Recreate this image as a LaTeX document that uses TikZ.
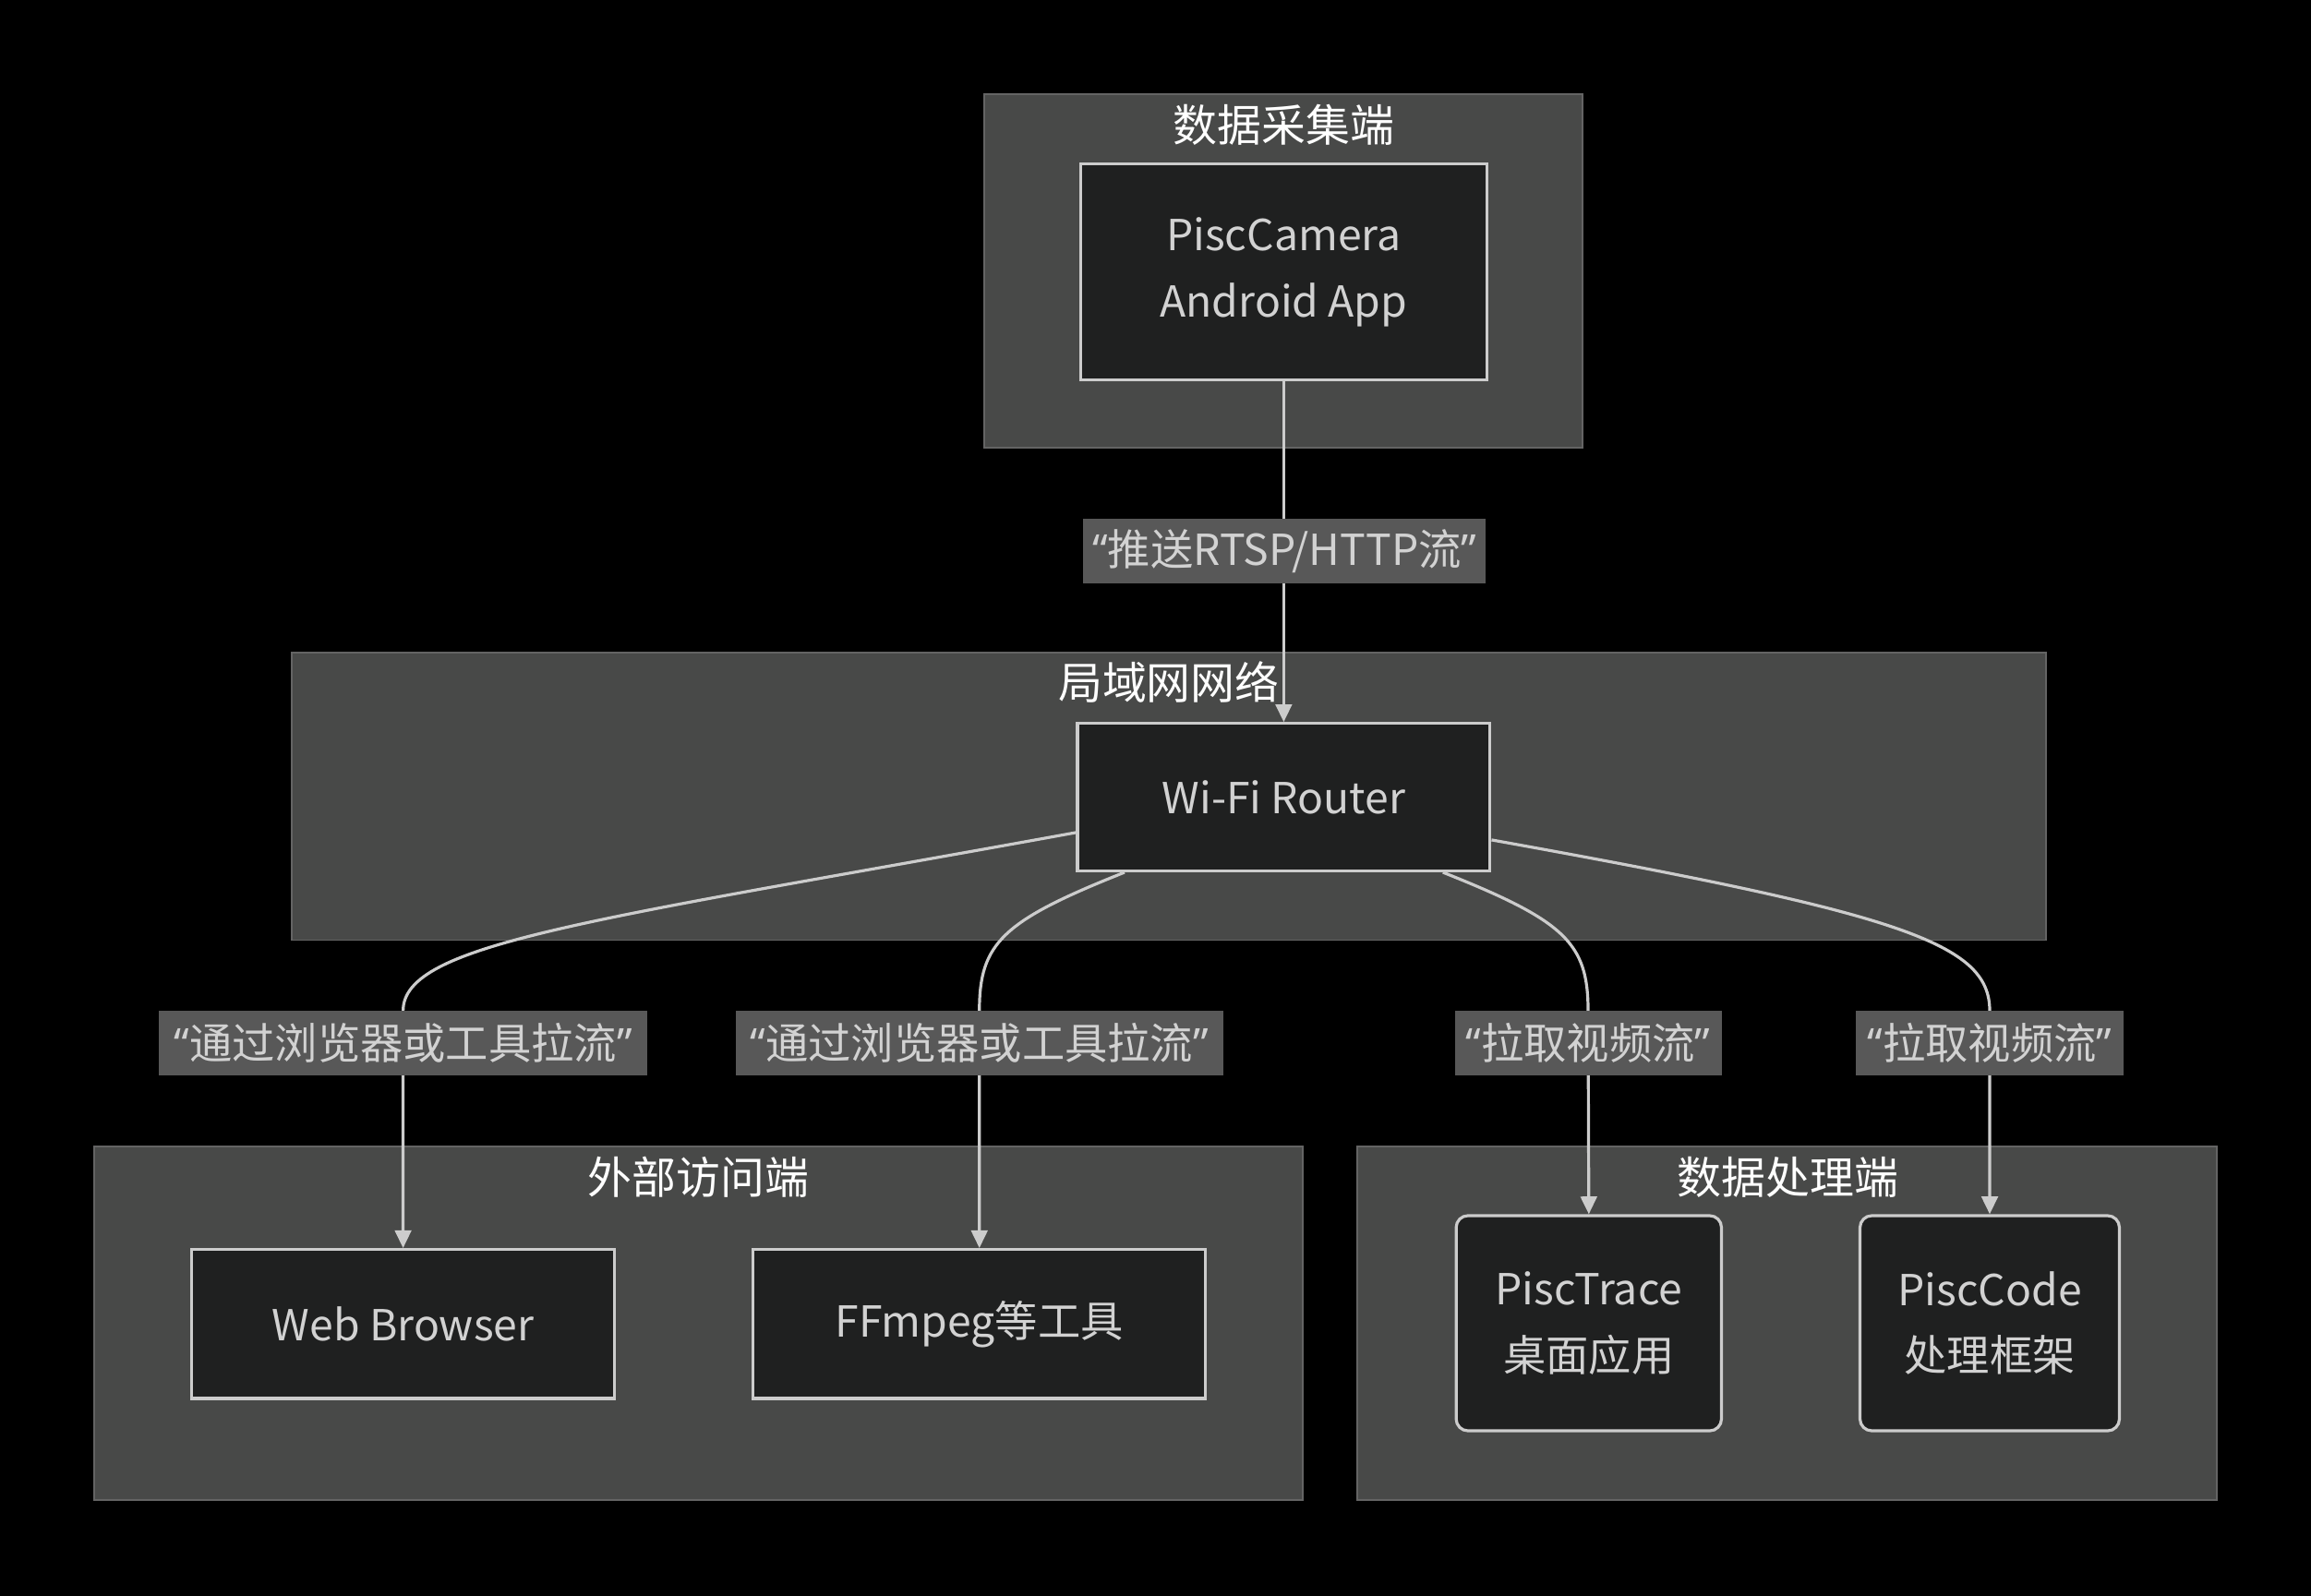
\documentclass[tikz,border=0pt]{standalone}
\usepackage{fontspec}
\setmainfont{Noto Sans CJK SC}
\newfontfamily\qfont{Noto Sans}
\newcommand\oquote{{\qfont “}}
\newcommand\cquote{{\qfont ”}}
\usetikzlibrary{arrows.meta,calc}
\definecolor{clfill}{RGB}{72,73,72}
\definecolor{clstroke}{RGB}{100,100,100}
\definecolor{ndfill}{RGB}{31,32,32}
\definecolor{ndstroke}{RGB}{204,204,204}
\definecolor{lbfill}{RGB}{88,88,88}
\definecolor{txt}{RGB}{210,210,210}
\tikzset{
  cluster/.style={draw=clstroke, fill=clfill, line width=0.6pt, inner sep=0pt},
  cltitle/.style={text=white, font=\fontsize{15pt}{18pt}\selectfont, inner sep=0pt},
  box/.style={draw=ndstroke, fill=ndfill, line width=1pt, inner sep=0pt, text=txt,
    font=\fontsize{14.5pt}{22.5pt}\selectfont, align=center},
  rbox/.style={box, rounded corners=4pt},
  elabel/.style={fill=lbfill, inner sep=0pt, text=txt, minimum height=22pt,
    font=\fontsize{14.5pt}{18pt}\selectfont},
  link/.style={draw=ndstroke, line width=1pt, -{Triangle[length=6pt,width=5.5pt]}},
}
\begin{document}
\begin{tikzpicture}[x=0.5pt,y=-0.5pt]
\fill[black] (0,0) rectangle (1568,1083);
\useasboundingbox (0,0) rectangle (1568,1083);
% clusters
\node[cluster, minimum width=203pt, minimum height=120pt] (c1) at (871,184) {};
\node[cluster, minimum width=595pt, minimum height=97.5pt] (c2) at (793,540.5) {};
\node[cluster, minimum width=410pt, minimum height=120pt] (c3) at (474,898) {};
\node[cluster, minimum width=291.5pt, minimum height=120pt] (c4) at (1212.5,898) {};
% titles
\node[cltitle] (t1) at (871,85) {数据采集端};
\node[cltitle] (t2) at (793,463) {局域网网络};
\node[cltitle] (t3) at (474,799) {外部访问端};
\node[cltitle] (t4) at (1213,799) {数据处理端};
% nodes
\node[box, minimum width=138pt, minimum height=73.5pt] (cam) at (871,184.5) {PiscCamera\\Android App};
\node[box, minimum width=140pt, minimum height=50pt] (router) at (871,541) {Wi-Fi Router};
\node[box, minimum width=143.5pt, minimum height=50.5pt] (web) at (273.5,898.5) {Web Browser};
\node[box, minimum width=153.5pt, minimum height=50.5pt] (ff) at (664.5,898.5) {FFmpeg等工具};
\node[rbox, minimum width=90pt, minimum height=73pt] (trace) at (1078,898) {PiscTrace\\桌面应用};
\node[rbox, minimum width=88pt, minimum height=73pt] (code) at (1350,898) {PiscCode\\处理框架};
% label anchors
\coordinate (a1) at (871,374);
\coordinate (a2) at (273.5,686);
\coordinate (a3) at (664.5,686);
\coordinate (a4) at (1077.5,686);
\coordinate (a5) at (1350,686);
% edges
\draw[link] (cam.south) -- (router.north);
\draw[link] ($(router.west)+(0,-12pt)$) .. controls (400,625) and (273.5,640) .. (a2) -- (web.north);
\draw[link] ($(router.south)+(-54pt,0)$) .. controls (680,625) and (664.5,640) .. (a3) -- (ff.north);
\draw[link] ($(router.south)+(54pt,0)$) .. controls (1062,625) and (1077.5,640) .. (a4) -- (trace.north);
\draw[link] ($(router.east)+(0,-14.5pt)$) .. controls (1290,620) and (1350,640) .. (a5) -- (code.north);
% edge labels
\node[elabel, minimum width=136.5pt] (l1) at (871.5,374) {\oquote 推送RTSP/HTTP流\cquote};
\node[elabel, minimum width=165.5pt] (l2) at (273.5,708) {\oquote 通过浏览器或工具拉流\cquote};
\node[elabel, minimum width=165.5pt] (l3) at (664.5,708) {\oquote 通过浏览器或工具拉流\cquote};
\node[elabel, minimum width=90.5pt] (l4) at (1077.5,708) {\oquote 拉取视频流\cquote};
\node[elabel, minimum width=91pt] (l5) at (1350,708) {\oquote 拉取视频流\cquote};
\end{tikzpicture}
\end{document}
